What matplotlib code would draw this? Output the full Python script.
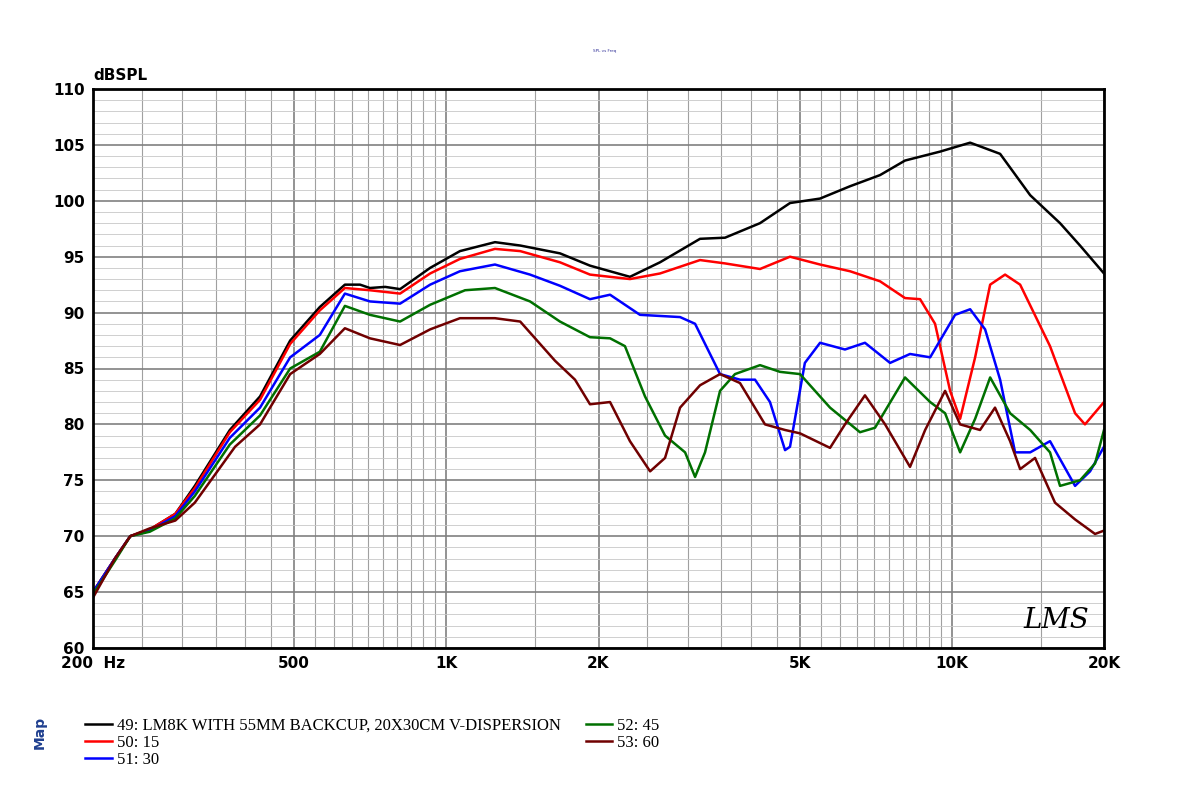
import matplotlib.pyplot as plt
from matplotlib.ticker import FixedLocator, NullFormatter

# frequency (Hz) / level (dB) readings per curve
f_49 = [200, 221, 237, 259, 291, 318, 373, 428, 491, 562, 630, 675, 706, 757, 810, 929, 1064,
        1248, 1400, 1678, 1924, 2308, 2647, 3176, 3559, 4174, 4785, 5487, 6288, 7211, 8080,
        9478, 10870, 12460, 14290, 16370, 17930, 20000]
db_49 = [65, 68, 70, 70.6, 72, 74.5, 79.5, 82.5, 87.5, 90.5, 92.5, 92.5, 92.2, 92.3, 92.1, 94,
         95.5, 96.3, 96, 95.3, 94.2, 93.2, 94.5, 96.6, 96.7, 98, 99.8, 100.2, 101.3, 102.3,
         103.6, 104.4, 105.2, 104.2, 100.5, 98, 96, 93.5]

f_50 = [200, 221, 237, 259, 291, 318, 373, 428, 491, 562, 630, 706, 810, 929, 1064, 1248, 1400,
        1678, 1924, 2308, 2647, 3176, 3559, 4174, 4785, 5487, 6288, 7211, 8080, 8654, 9264,
        9922, 10385, 11120, 11907, 12745, 13650, 15640, 17530, 18340, 20000]
db_50 = [65, 68, 70, 70.6, 72, 74.3, 79.3, 82.2, 87.2, 90.2, 92.2, 92, 91.7, 93.5, 94.8, 95.7,
         95.5, 94.5, 93.4, 93, 93.5, 94.7, 94.4, 93.9, 95, 94.3, 93.7, 92.8, 91.3, 91.2, 89,
         83, 80.5, 86, 92.5, 93.4, 92.5, 87, 81, 80, 82]

f_51 = [200, 221, 237, 259, 291, 318, 373, 428, 491, 562, 630, 706, 810, 929, 1064, 1248, 1464,
        1678, 1924, 2108, 2416, 2900, 3105, 3479, 3810, 4080, 4368, 4678, 4785, 5120, 5487,
        6146, 6732, 7548, 8266, 9060, 10150, 10870, 11637, 12460, 13340, 14290, 15640, 17530,
        18770, 20000]
db_51 = [65, 68, 70, 70.5, 71.8, 74, 78.8, 81.5, 86, 88, 91.7, 91, 90.8, 92.5, 93.7, 94.3, 93.4,
         92.4, 91.2, 91.6, 89.8, 89.6, 89, 84.5, 84, 84, 82, 77.7, 78, 85.5, 87.3, 86.7, 87.3,
         85.5, 86.3, 86, 89.8, 90.3, 88.5, 84, 77.5, 77.5, 78.5, 74.5, 75.8, 78]

f_52 = [200, 221, 237, 259, 291, 318, 373, 428, 491, 562, 630, 706, 810, 929, 1089, 1248, 1464,
        1678, 1924, 2108, 2256, 2472, 2708, 2967, 3105, 3249, 3479, 3724, 4174, 4572, 5008,
        5742, 6581, 7048, 8080, 9060, 9698, 10385, 11120, 11907, 13040, 14290, 15640, 16370,
        17930, 19200, 20000]
db_52 = [64.8, 67.8, 70, 70.4, 71.6, 73.6, 78.2, 80.8, 85, 86.5, 90.6, 89.8, 89.2, 90.7, 92,
         92.2, 91, 89.2, 87.8, 87.7, 87, 82.5, 79, 77.5, 75.3, 77.5, 83, 84.5, 85.3, 84.7, 84.5,
         81.5, 79.3, 79.7, 84.2, 82, 81, 77.5, 80.5, 84.2, 81, 79.5, 77.5, 74.5, 75, 76.5, 79.5]

f_53 = [200, 221, 237, 259, 291, 318, 382, 428, 491, 562, 630, 706, 810, 929, 1064, 1248, 1400,
        1640, 1797, 1924, 2108, 2308, 2530, 2708, 2900, 3176, 3479, 3810, 4270, 4678, 5008,
        5742, 6146, 6732, 7379, 8266, 8855, 9698, 10385, 11372, 12174, 13040, 13650, 14610,
        16000, 17530, 19200, 20000]
db_53 = [64.5, 68, 70, 70.7, 71.4, 73, 78, 80, 84.5, 86.3, 88.6, 87.7, 87.1, 88.5, 89.5, 89.5,
         89.2, 85.7, 84, 81.8, 82, 78.5, 75.8, 77, 81.5, 83.5, 84.5, 83.7, 80, 79.5, 79.2, 77.9,
         80, 82.6, 80, 76.2, 79.5, 83, 80, 79.5, 81.5, 78.5, 76, 77, 73, 71.5, 70.2, 70.5]

series = [
    (f_49, db_49, "black", "49: LM8K WITH 55MM BACKCUP, 20X30CM V-DISPERSION"),
    (f_50, db_50, "#ff0000", "50: 15"),
    (f_51, db_51, "#0000ff", "51: 30"),
    (f_52, db_52, "#007000", "52: 45"),
    (f_53, db_53, "#700000", "53: 60"),
]

xtick_vals = [200, 500, 1000, 2000, 5000, 10000, 20000]
xtick_labels = ["200  Hz", "500", "1K", "2K", "5K", "10K", "20K"]

fig = plt.figure(figsize=(12, 7.93), dpi=100)
ax = fig.add_axes([93 / 1200, 1 - 648 / 793, 1011 / 1200, 559 / 793])

ax.set_xscale("log")
ax.set_xlim(200, 20000)
ax.set_ylim(60, 110)

minor_x = [m * 10 ** k for k in (2, 3, 4) for m in range(1, 10)]
minor_x = [v for v in minor_x if 200 <= v <= 20000]
minor_x += [m * 10 ** k for k in (2, 3, 4) for m in (1.5, 2.5, 3.5, 4.5, 5.5, 6.5, 7.5, 8.5, 9.5)]
ax.xaxis.set_minor_locator(FixedLocator([v for v in minor_x if 200 < v < 20000]))
ax.xaxis.set_minor_formatter(NullFormatter())
ax.xaxis.set_major_locator(FixedLocator(xtick_vals))
ax.set_xticklabels(xtick_labels, fontweight="bold", fontsize=11)
ax.set_yticks(range(60, 111, 5))
ax.set_yticklabels([str(v) for v in range(60, 111, 5)], fontweight="bold", fontsize=11)
ax.set_yticks(range(60, 111), minor=True)

ax.grid(which="major", axis="both", color="#808080", lw=1.2)
ax.grid(which="minor", axis="x", color="#a0a0a0", lw=0.8)
ax.grid(which="minor", axis="y", color="#c8c8c8", lw=0.6)
ax.tick_params(which="both", length=0, pad=6)
for s in ax.spines.values():
    s.set_linewidth(2)

for f, d, c, lab in series:
    ax.plot(f, d, color=c, lw=1.8, label=lab)

ax.text(0, 1.01, "dBSPL", transform=ax.transAxes, fontweight="bold", fontsize=11, va="bottom")
fig.text(605 / 1200, 1 - 52 / 793, "SPL vs Freq", fontsize=3, color="#333399", ha="center")
ax.text(0.985, 0.025, "LMS", transform=ax.transAxes, fontsize=20, style="italic",
        ha="right", va="bottom", family="DejaVu Serif")
fig.text(40 / 1200, 1 - 732 / 793, "Map", rotation=90, color="#1f3f8f", fontweight="bold",
         fontsize=10, ha="center", va="center")

handles, labels = ax.get_legend_handles_labels()
order = [0, 1, 2, 3, 4]
leg = fig.legend([handles[i] for i in order], [labels[i] for i in order], ncol=2,
                 loc="upper left", bbox_to_anchor=(70 / 1200, 1 - 703 / 793), frameon=False,
                 prop={"family": "Liberation Serif", "size": 12}, handlelength=1.6,
                 labelspacing=0.05, columnspacing=1.5, handletextpad=0.3)

fig.savefig("out.png", dpi=100)
